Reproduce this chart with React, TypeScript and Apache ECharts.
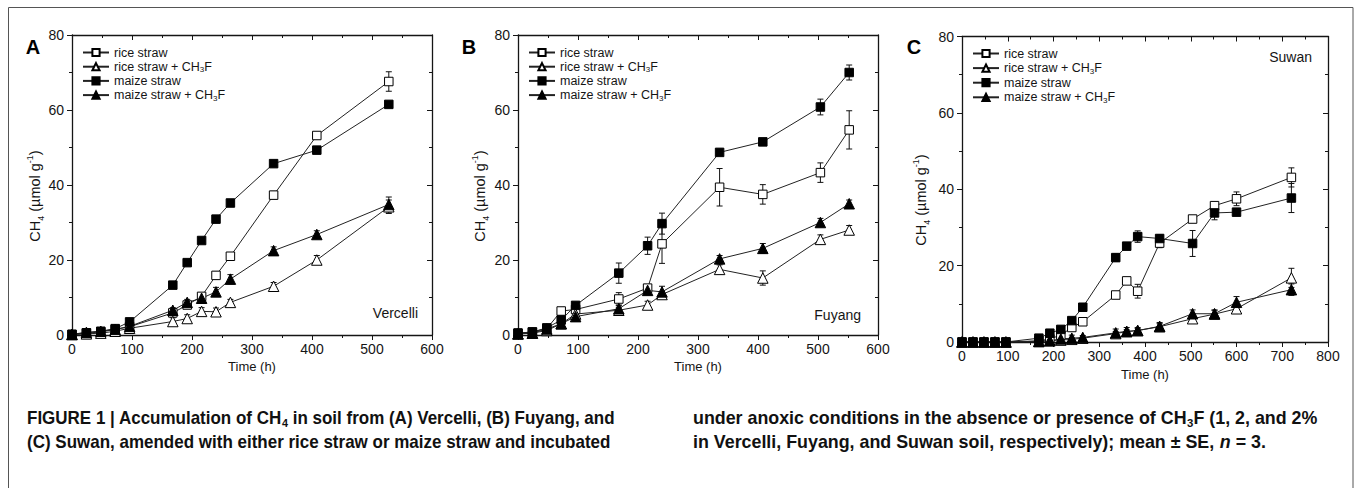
import { useEffect, useRef } from 'react';
import * as echarts from 'echarts';

// ---------------- data ----------------
const seriesNames = ['rice straw', 'rice straw + CH3F', 'maize straw', 'maize straw + CH3F'];
const panelLetters = ['A', 'B', 'C'];
const siteNames = ['Vercelli', 'Fuyang', 'Suwan'];
const xMaxes = [600, 600, 800];
const yMax = 80;
const xInterval = 100;
const yInterval = 20;

// Panel A – Vercelli
const timeA = [0, 24, 48, 72, 96, 168, 192, 216, 240, 264, 336, 408, 528];
const riceA = [0.1, 0.5, 0.8, 1.5, 2.2, 5.9, 8.0, 10.3, 15.9, 21.0, 37.3, 53.2, 67.6];
const riceAErr = [0, 0.2, 0.2, 0.3, 0.4, 0.6, 0.6, 0.7, 1.0, 0.7, 1.0, 0.8, 2.6];
const riceFA = [0.1, 0.3, 0.5, 1.0, 1.8, 3.6, 4.4, 6.3, 6.2, 8.7, 13.0, 20.0, 34.2];
const riceFAErr = [0, 0.2, 0.2, 0.3, 0.4, 1.0, 1.0, 1.0, 1.0, 0.8, 1.0, 1.2, 1.8];
const maizeA = [0.2, 0.6, 1.0, 1.7, 3.5, 13.3, 19.3, 25.2, 30.9, 35.2, 45.7, 49.3, 61.5];
const maizeAErr = [0, 0.2, 0.3, 0.3, 0.5, 0.5, 0.5, 0.6, 0.6, 0.6, 0.6, 0.6, 0.6];
const maizeFA = [0.2, 0.7, 1.0, 1.5, 2.3, 6.6, 8.7, 9.8, 11.5, 14.9, 22.5, 26.8, 34.8];
const maizeFAErr = [0, 0.2, 0.3, 0.3, 0.4, 0.7, 0.8, 1.0, 1.2, 1.2, 1.0, 1.0, 2.0];

// Panel B – Fuyang
const timeB = [0, 24, 48, 72, 96, 168, 216, 240, 336, 408, 504, 552];
const riceB = [0.5, 0.8, 1.7, 6.4, 6.8, 9.6, 12.5, 24.3, 39.4, 37.5, 43.3, 54.7];
const riceBErr = [0, 0.2, 0.3, 0.8, 0.8, 1.7, 0.8, 5.2, 5.0, 2.6, 2.6, 5.1];
const riceFB = [0.3, 0.5, 1.2, 3.0, 5.6, 6.6, 8.0, 10.8, 17.5, 15.2, 25.5, 28.0];
const riceFBErr = [0, 0.2, 0.3, 0.8, 0.8, 0.8, 1.0, 0.8, 1.2, 1.9, 1.2, 1.2];
const maizeB = [0.5, 0.8, 1.9, 4.0, 7.9, 16.5, 23.8, 29.7, 48.7, 51.5, 60.8, 70.0];
const maizeBErr = [0, 0.2, 0.3, 0.8, 0.6, 2.7, 2.3, 2.8, 0.8, 0.8, 2.1, 2.0];
const maizeFB = [0.3, 0.5, 1.6, 3.0, 4.9, 7.0, 11.9, 11.5, 20.3, 23.1, 30.0, 35.0];
const maizeFBErr = [0, 0.2, 0.3, 0.8, 0.8, 1.0, 0.9, 1.5, 0.9, 1.3, 1.1, 1.0];

// Panel C – Suwan
const timeC = [0, 24, 48, 72, 96, 168, 192, 216, 240, 264, 336, 360, 384, 432, 504, 552, 600, 720];
const riceC = [0, 0, 0, 0, 0, 0.3, 0.8, 1.8, 3.8, 5.3, 12.3, 16.0, 13.3, 25.9, 32.2, 35.7, 37.5, 43.1];
const riceCErr = [0, 0, 0, 0, 0, 0.2, 0.3, 0.5, 0.8, 0.8, 0.7, 0.8, 1.8, 1.2, 0.8, 0.8, 1.8, 2.5];
const riceFC = [0, 0, 0, 0, 0, 0.2, 0.4, 0.5, 0.7, 1.0, 2.2, 2.7, 3.0, 4.0, 6.1, 7.3, 8.7, 16.8];
const riceFCErr = [0, 0, 0, 0, 0, 0.2, 0.2, 0.3, 0.3, 0.3, 0.5, 0.5, 0.5, 0.8, 1.0, 1.0, 1.2, 2.5];
const maizeC = [0, 0, 0, 0, 0, 1.0, 2.3, 3.3, 5.6, 9.1, 22.1, 25.1, 27.6, 27.1, 25.8, 33.8, 34.0, 37.7];
const maizeCErr = [0, 0, 0, 0, 0, 0.3, 0.3, 0.4, 0.5, 0.5, 1.0, 0.6, 1.5, 1.0, 3.4, 1.8, 0.7, 3.8];
const maizeFC = [0, 0, 0, 0, 0, 0.1, 0.3, 0.8, 1.0, 1.2, 2.4, 2.8, 3.0, 4.1, 7.4, 7.4, 10.4, 13.7];
const maizeFCErr = [0, 0, 0, 0, 0, 0.1, 0.2, 0.5, 0.8, 0.5, 1.0, 1.0, 0.8, 1.0, 1.0, 1.0, 1.5, 1.5];

const captionLeft = [
  'FIGURE 1 | Accumulation of CH{s|4} in soil from (A) Vercelli, (B) Fuyang, and',
  '(C) Suwan, amended with either rice straw or maize straw and incubated',
];
const captionRight = [
  'under anoxic conditions in the absence or presence of CH{s|3}F (1, 2, and 2%',
  'in Vercelli, Fuyang, and Suwan soil, respectively); mean \u00b1 SE, {i|n} = 3.',
];

const panels = [
  { time: timeA, values: [riceA, riceFA, maizeA, maizeFA], errors: [riceAErr, riceFAErr, maizeAErr, maizeFAErr] },
  { time: timeB, values: [riceB, riceFB, maizeB, maizeFB], errors: [riceBErr, riceFBErr, maizeBErr, maizeFBErr] },
  { time: timeC, values: [riceC, riceFC, maizeC, maizeFC], errors: [riceCErr, riceFCErr, maizeCErr, maizeFCErr] },
];

// ---------------- layout / style ----------------
const FONT = "'Liberation Sans', Arial, Helvetica, sans-serif";
const INK = '#151515';
const grids = [
  { left: 72, top: 35, width: 360, height: 300 },
  { left: 518, top: 35, width: 360, height: 300 },
  { left: 962, top: 36.5, width: 366, height: 305.5 },
];
const legendPos = [
  { left: 82, top: 45.5, gap: 0.2 },
  { left: 528, top: 45.5, gap: 0.2 },
  { left: 972, top: 46.5, gap: 0.6 },
];
const markers = [
  { symbol: 'rect', size: 8.5, fill: '#ffffff' },
  { symbol: 'triangle', size: 10.5, fill: '#ffffff' },
  { symbol: 'rect', size: 8.5, fill: '#000000' },
  { symbol: 'triangle', size: 10.5, fill: '#000000' },
];
const letterPos = [[33, 47], [469, 47], [914, 47]];
const yTitlePos = [[35, 196], [480, 196], [921, 200]];
const sitePos = [[418, 313, 'right'], [861, 315, 'right'], [1312, 57, 'right']];
const xTitlePos = [[252, 366], [698, 366], [1145, 374]];
const capCols = [
  { x: 27, scaleX: 0.944, lines: captionLeft },
  { x: 693, scaleX: 0.992, lines: captionRight },
];
const capY = [418, 442];

function buildOption() {
  const xAxis: any[] = [];
  const yAxis: any[] = [];
  grids.forEach((_, i) => {
    const lineSt = { color: INK, width: 1.3 };
    const tickSt = { color: INK, width: 1 };
    const base = {
      type: 'value', gridIndex: i, min: 0, splitLine: { show: false },
      axisLine: { show: true, onZero: false, lineStyle: lineSt },
      minorSplitLine: { show: false },
    };
    xAxis.push({
      ...base, max: xMaxes[i], interval: xInterval, position: 'bottom',
      axisTick: { show: true, inside: false, length: 5, lineStyle: tickSt },
      minorTick: { show: true, splitNumber: 2, length: 3, lineStyle: tickSt },
      axisLabel: { show: true, fontSize: 14, color: INK, fontFamily: FONT, margin: 7 },
    });
    xAxis.push({
      ...base, max: xMaxes[i], interval: xInterval, position: 'top',
      axisTick: { show: true, inside: true, length: 5, lineStyle: tickSt },
      minorTick: { show: true, splitNumber: 2, length: 3, lineStyle: tickSt },
      axisLabel: { show: false },
    });
    yAxis.push({
      ...base, max: yMax, interval: yInterval, position: 'left',
      axisTick: { show: true, inside: false, length: 5, lineStyle: tickSt },
      minorTick: { show: true, splitNumber: 2, length: 3, lineStyle: tickSt },
      axisLabel: { show: true, fontSize: 14, color: INK, fontFamily: FONT, margin: 8 },
    });
    yAxis.push({
      ...base, max: yMax, interval: yInterval, position: 'right',
      axisTick: { show: true, inside: true, length: 5, lineStyle: tickSt },
      minorTick: { show: true, splitNumber: 2, length: 3, lineStyle: tickSt },
      axisLabel: { show: false },
    });
  });

  const series: any[] = [];
  panels.forEach((p, i) => {
    p.values.forEach((vals, k) => {
      const m = markers[k];
      series.push({
        type: 'custom',
        xAxisIndex: 2 * i,
        yAxisIndex: 2 * i,
        z: 2,
        silent: true,
        data: p.time.map((t, j) => [t, vals[j], p.errors[k][j]]),
        encode: { x: 0, y: 1 },
        renderItem: (_params: any, api: any) => {
          const e = api.value(2);
          if (!e) return { type: 'group', children: [] };
          const x = api.value(0);
          const y = api.value(1);
          const top = api.coord([x, y + e]);
          const bot = api.coord([x, Math.max(0, y - e)]);
          const cap = 3;
          const st = { stroke: '#111', lineWidth: 1, fill: null };
          return {
            type: 'group',
            children: [
              { type: 'line', shape: { x1: top[0], y1: top[1], x2: bot[0], y2: bot[1] }, style: st },
              { type: 'line', shape: { x1: top[0] - cap, y1: top[1], x2: top[0] + cap, y2: top[1] }, style: st },
              { type: 'line', shape: { x1: bot[0] - cap, y1: bot[1], x2: bot[0] + cap, y2: bot[1] }, style: st },
            ],
          };
        },
      });
      series.push({
        type: 'line',
        name: seriesNames[k],
        xAxisIndex: 2 * i,
        yAxisIndex: 2 * i,
        z: 3,
        data: p.time.map((t, j) => [t, vals[j]]),
        symbol: m.symbol,
        symbolSize: m.size,
        showSymbol: true,
        showAllSymbol: true,
        lineStyle: { color: '#222', width: 1 },
        itemStyle: { color: m.fill, borderColor: '#000', borderWidth: 1 },
        emphasis: { disabled: true },
      });
    });
  });

  const legend = legendPos.map((lp) => ({
    orient: 'vertical',
    left: lp.left,
    top: lp.top,
    padding: 0,
    itemWidth: 26,
    itemHeight: 9,
    itemGap: lp.gap,
    selectedMode: false,
    data: seriesNames,
    formatter: (n: string) => n.replace('CH3F', 'CH{s|3}F'),
    textStyle: {
      fontSize: 12.5, color: INK, fontFamily: FONT, lineHeight: 14,
      rich: { s: { fontSize: 8, lineHeight: 8, verticalAlign: 'bottom', color: INK, fontFamily: FONT } },
    },
  }));

  const graphic: any[] = [];
  graphic.push({
    type: 'rect', silent: true,
    shape: { x: 8.5, y: 7.5, width: 1344.5, height: 520 },
    style: { fill: 'none', stroke: '#555', lineWidth: 1 },
  });
  panelLetters.forEach((L, i) => {
    graphic.push({
      type: 'text', x: letterPos[i][0], y: letterPos[i][1],
      style: { text: L, fontSize: 20, fontWeight: 'bold', fontFamily: FONT, fill: '#000', align: 'center', verticalAlign: 'middle', textAlign: 'center', textVerticalAlign: 'middle' },
    });
  });
  yTitlePos.forEach((pos) => {
    graphic.push({
      type: 'text', x: pos[0], y: pos[1], rotation: Math.PI / 2,
      style: {
        text: 'CH{s|4} (\u00b5mol g{p|-1})', fontSize: 14.5, fontFamily: FONT, fill: INK, lineHeight: 20,
        align: 'center', verticalAlign: 'middle', textAlign: 'center', textVerticalAlign: 'middle',
        rich: {
          s: { fontSize: 9, lineHeight: 10, verticalAlign: 'bottom', fontFamily: FONT, fill: INK },
          p: { fontSize: 9, lineHeight: 10, verticalAlign: 'top', fontFamily: FONT, fill: INK },
        },
      },
    });
  });
  siteNames.forEach((s, i) => {
    graphic.push({
      type: 'text', x: sitePos[i][0], y: sitePos[i][1],
      style: { text: s, fontSize: 14, fontFamily: FONT, fill: INK, align: sitePos[i][2], verticalAlign: 'middle', textAlign: sitePos[i][2], textVerticalAlign: 'middle' },
    });
  });
  xTitlePos.forEach((pos) => {
    graphic.push({
      type: 'text', x: pos[0], y: pos[1],
      style: { text: 'Time (h)', fontSize: 13, fontFamily: FONT, fill: INK, align: 'center', verticalAlign: 'middle', textAlign: 'center', textVerticalAlign: 'middle' },
    });
  });
  const capRich = {
    s: { fontSize: 11.5, lineHeight: 12, verticalAlign: 'bottom', fontWeight: 'bold', fontFamily: FONT, fill: '#111' },
    i: { fontSize: 18, lineHeight: 22, fontStyle: 'italic', fontWeight: 'bold', fontFamily: FONT, fill: '#111' },
  };
  capCols.forEach((col) => {
    col.lines.forEach((line, li) => {
      graphic.push({
        type: 'text', x: col.x, y: capY[li], scaleX: col.scaleX,
        style: {
          text: line, fontSize: 18, fontWeight: 'bold', fontFamily: FONT, fill: '#111', lineHeight: 22,
          align: 'left', verticalAlign: 'middle', textAlign: 'left', textVerticalAlign: 'middle',
          rich: capRich,
        },
      });
    });
  });

  return {
    animation: false,
    backgroundColor: '#ffffff',
    grid: grids.map((g) => ({ ...g, containLabel: false })),
    xAxis,
    yAxis,
    legend,
    series,
    graphic,
  };
}

export default function App() {
  const ref = useRef<HTMLDivElement | null>(null);
  useEffect(() => {
    if (!ref.current) return;
    const chart = echarts.init(ref.current, undefined, { renderer: 'svg' });
    chart.setOption(buildOption() as any);
    return () => chart.dispose();
  }, []);
  return (
    <div
      ref={ref}
      style={{ position: 'absolute', left: 0, top: 0, width: 1356, height: 488, background: '#fff' }}
    />
  );
}
